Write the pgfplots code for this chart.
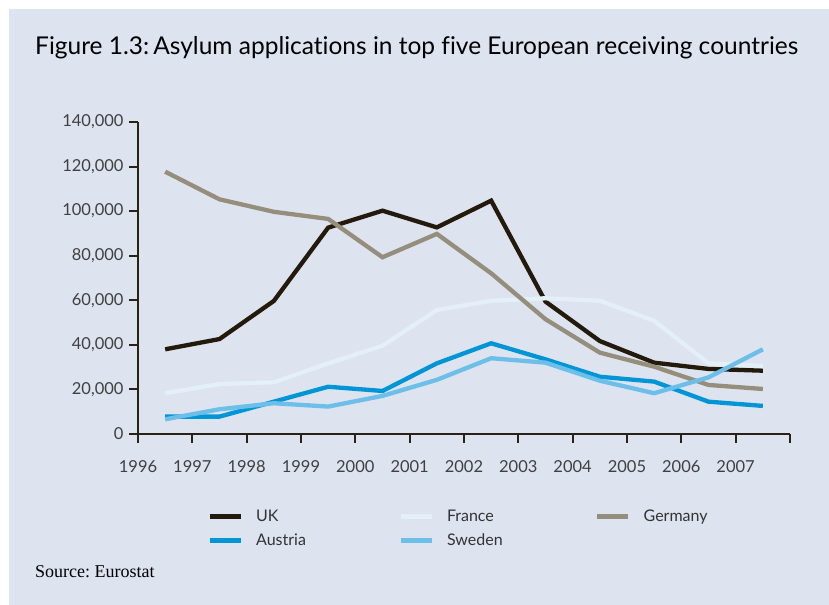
\documentclass[border=0pt]{standalone}
\usepackage{pgfplots}
\pgfplotsset{compat=1.18}
\usepackage{fontspec}
\setmainfont{Lato}[Ligatures={NoCommon}]
\newfontfamily\srcfont{Liberation Serif}
\frenchspacing

\definecolor{panel}{HTML}{DDE3EF}
\definecolor{axiscol}{HTML}{2B2216}
\definecolor{ukcol}{HTML}{231A0C}
\definecolor{frcol}{HTML}{E3F0F8}
\definecolor{decol}{HTML}{968E7C}
\definecolor{atcol}{HTML}{0096D6}
\definecolor{secol}{HTML}{6CBFE8}

\begin{document}
\begin{tikzpicture}[x=1bp,y=1bp]
% page and panel
\fill[white] (0,0) rectangle (829,605);
\fill[panel] (9,0) rectangle (829,596);
\node[anchor=west, inner sep=0, font=\fontsize{24.5bp}{27bp}\selectfont] at (35,557)
  {Figure 1.3:\,Asylum applications in top five European receiving countries};
\node[anchor=west, inner sep=0, font=\srcfont\fontsize{18bp}{20bp}\selectfont] at (35,33)
  {Source: Eurostat};

\begin{axis}[
    at={(138bp,171bp)}, anchor=south west,
    scale only axis, width=652bp, height=312bp,
    axis lines=left,
    axis line style={-, line width=2.2bp, axiscol},
    xmin=1996, xmax=2008, ymin=0, ymax=140000,
    xtick={1996,...,2008},
    xticklabels={1996,1997,1998,1999,2000,2001,2002,2003,2004,2005,2006,2007,{}},
    ytick={0,20000,...,140000},
    scaled y ticks=false,
    yticklabel={\pgfmathprintnumber[fixed,precision=0,1000 sep={,},assume math mode=true]{\tick}},
    tick align=outside,
    major tick length=9bp,
    tick style={line width=2bp, axiscol},
    ticklabel style={font=\fontsize{16.5bp}{18bp}\selectfont, text=black!75},
    xticklabel style={yshift=-14bp},
    yticklabel style={xshift=-2bp},
    clip=false,
    legend columns=3,
    legend cell align=left,
    legend style={at={(0.1058,-0.235)}, anchor=north west, draw=none, fill=none,
      inner sep=0pt, row sep=7bp,
      font=\fontsize{16bp}{18bp}\selectfont, text=black!80,
      /tikz/every even column/.append style={column sep=90bp},
      /tikz/every odd column/.append style={column sep=11bp}},
    legend image code/.code={\draw[#1, line width=5bp] (0bp,0bp) -- (31bp,0bp);},
    every axis plot/.append style={line width=4.3bp, line join=miter},
]
\addplot[ukcol] coordinates {
 (1996.5,38000) (1997.5,42600) (1998.5,59700) (1999.5,92600) (2000.5,100200)
 (2001.5,92700) (2002.5,104700) (2003.5,59400) (2004.5,41700) (2005.5,32000)
 (2006.5,29200) (2007.5,28400)};
\addplot[frcol] coordinates {
 (1996.5,18300) (1997.5,22400) (1998.5,23200) (1999.5,31700) (2000.5,39600)
 (2001.5,55600) (2002.5,59800) (2003.5,60900) (2004.5,59800) (2005.5,50800)
 (2006.5,31700) (2007.5,30500)};
\addplot[decol] coordinates {
 (1996.5,117700) (1997.5,105300) (1998.5,99700) (1999.5,96500) (2000.5,79300)
 (2001.5,89800) (2002.5,72100) (2003.5,51500) (2004.5,36500) (2005.5,30200)
 (2006.5,22000) (2007.5,20200)};
\addplot[atcol] coordinates {
 (1996.5,7800) (1997.5,7800) (1998.5,14500) (1999.5,21200) (2000.5,19300)
 (2001.5,31700) (2002.5,40700) (2003.5,33500) (2004.5,25700) (2005.5,23500)
 (2006.5,14500) (2007.5,12600)};
\addplot[secol] coordinates {
 (1996.5,6600) (1997.5,11100) (1998.5,13800) (1999.5,12300) (2000.5,17100)
 (2001.5,24300) (2002.5,34000) (2003.5,32000) (2004.5,23900) (2005.5,18300)
 (2006.5,25400) (2007.5,38000)};
\legend{UK, France, Germany, Austria, Sweden}
\end{axis}
\end{tikzpicture}
\end{document}
